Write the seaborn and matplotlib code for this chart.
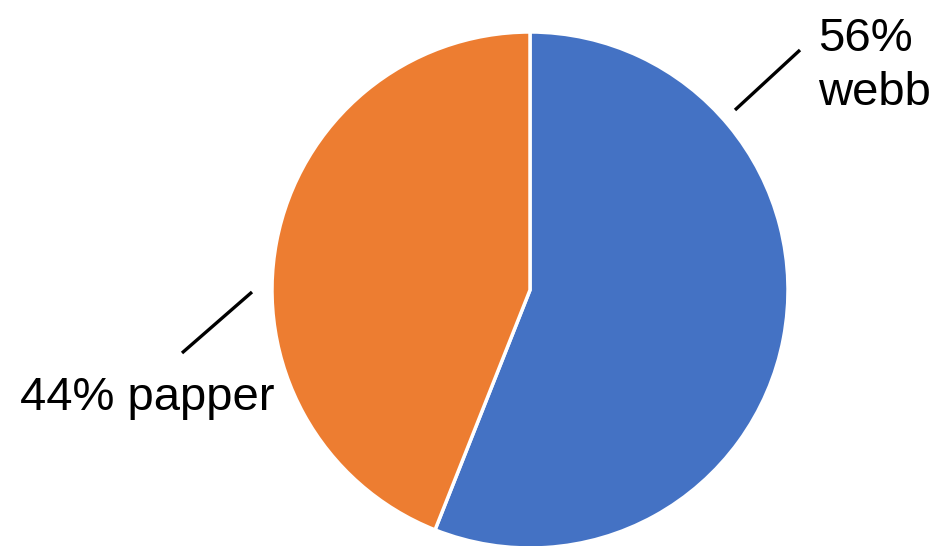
import matplotlib
matplotlib.use("Agg")
import matplotlib.pyplot as plt
import seaborn as sns

labels = ["webb", "papper"]
values = [56, 44]
colors = ["#4472C4", "#ED7D31"]

sns.set_style("white")
plt.rcParams['font.family'] = ['Liberation Sans', 'DejaVu Sans']

fig = plt.figure(figsize=(9.43, 5.46), dpi=100)
ax = fig.add_axes([0, 0, 1, 1])
ax.pie(values, colors=colors, startangle=90, counterclock=False,
       center=(530, 256), radius=258,
       wedgeprops=dict(edgecolor="white", linewidth=2.5))
ax.set_xlim(0, 943)
ax.set_ylim(0, 546)
ax.set_aspect("equal")
ax.axis("off")

# leader lines
ax.plot([735, 800], [436, 496], color="black", lw=2.4, solid_capstyle="butt")
ax.plot([182, 252], [193, 254], color="black", lw=2.4, solid_capstyle="butt")

ax.text(818, 529, f"{values[0]}%\n{labels[0]}", ha="left", va="top",
        fontsize=34, linespacing=1.28, color="black")
ax.text(20, 148, f"{values[1]}% {labels[1]}", ha="left", va="center",
        fontsize=34, color="black")

fig.savefig("out.png", dpi=100)
